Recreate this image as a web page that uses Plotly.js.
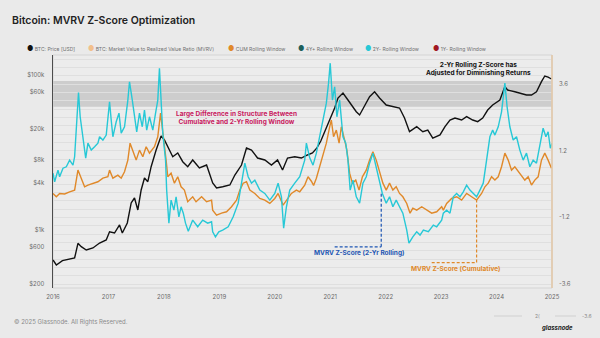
<!DOCTYPE html>
<html>
<head>
<meta charset="utf-8">
<script src="https://cdn.plot.ly/plotly-3.0.1.min.js"></script>
<style>
html,body{margin:0;padding:0;background:#eaeaea;}
#chart{width:600px;height:338px;}
</style>
</head>
<body>
<div id="chart"></div>
<script>
// ---------- DATA ----------
var btcYears = [2016.00,2016.06,2016.17,2016.39,2016.45,2016.51,2016.60,2016.72,2016.84,2016.96,
  2017.02,2017.11,2017.20,2017.25,2017.34,2017.41,2017.47,2017.53,2017.59,2017.65,2017.71,2017.77,2017.86,2017.95,
  2018.01,2018.10,2018.16,2018.25,2018.34,2018.43,2018.52,2018.64,2018.77,2018.88,2018.95,
  2019.06,2019.19,2019.28,2019.40,2019.49,2019.58,2019.69,2019.82,2019.94,
  2020.05,2020.14,2020.23,2020.36,2020.48,2020.59,2020.68,2020.76,2020.83,2020.90,2020.99,
  2021.08,2021.14,2021.23,2021.32,2021.38,2021.47,2021.53,2021.62,2021.71,2021.80,2021.89,
  2022.01,2022.13,2022.25,2022.34,2022.43,2022.56,2022.67,2022.76,2022.85,2022.98,
  2023.07,2023.16,2023.25,2023.37,2023.46,2023.57,2023.66,2023.75,2023.84,2023.93,
  2024.06,2024.15,2024.20,2024.33,2024.42,2024.54,2024.63,2024.72,2024.81,2024.87,2024.93,2024.99];
var btcPrice = [411,355,403,436,674,610,553,587,680,744,
  951,915,1161,915,1233,2230,2585,1811,3276,4677,4190,6537,10720,16250,
  14430,10720,8790,9810,7580,6537,7980,6290,6870,4035,3478,
  3612,3800,5105,6870,11380,10720,8456,7980,6870,
  7980,5930,8456,8790,8456,9250,9810,11400,14000,18450,26100,
  37270,50100,58100,47200,40700,33400,30300,40700,52100,60400,50100,
  40700,38700,37270,27700,18450,21400,18450,19400,15300,16750,
  21400,26100,27700,26100,28800,26100,24850,27700,35100,40700,
  47200,70000,63500,60400,57500,54800,54800,60400,81300,96200,93300,88100];

var cumYears = [2016.00,2016.06,2016.12,2016.21,2016.30,2016.39,2016.45,2016.51,2016.57,2016.63,2016.72,2016.81,2016.90,2016.99,
  2017.02,2017.08,2017.17,2017.23,2017.29,2017.35,2017.39,2017.44,2017.50,2017.56,2017.62,2017.68,2017.74,2017.83,2017.89,2017.94,2017.98,
  2018.04,2018.07,2018.13,2018.19,2018.25,2018.31,2018.37,2018.43,2018.52,2018.58,2018.68,2018.77,2018.86,2018.88,2018.95,
  2019.04,2019.13,2019.22,2019.31,2019.37,2019.43,2019.49,2019.55,2019.64,2019.73,2019.82,2019.91,
  2020.00,2020.06,2020.15,2020.21,2020.30,2020.39,2020.45,2020.54,2020.60,2020.66,2020.70,2020.75,2020.81,2020.87,2020.93,2020.99,
  2021.02,2021.06,2021.11,2021.16,2021.20,2021.26,2021.30,2021.35,2021.40,2021.46,2021.52,2021.58,2021.65,2021.71,2021.77,2021.83,2021.89,2021.95,
  2022.01,2022.07,2022.13,2022.19,2022.25,2022.31,2022.38,2022.44,2022.49,2022.56,2022.65,2022.74,2022.83,2022.92,
  2023.01,2023.04,2023.10,2023.19,2023.28,2023.37,2023.46,2023.55,2023.64,2023.73,2023.79,2023.85,2023.91,2023.97,
  2024.03,2024.09,2024.15,2024.21,2024.27,2024.33,2024.42,2024.51,2024.57,2024.63,2024.69,2024.75,2024.81,2024.87,2024.93,2024.99];
var cumZ = [-0.34,-0.46,-0.34,-0.36,-0.28,-0.22,0.50,0.21,-0.10,-0.04,0.03,0.08,0.21,0.26,
  0.50,0.21,0.32,0.21,0.44,0.86,1.47,1.22,0.86,1.22,0.98,1.34,1.11,1.34,1.70,2.55,1.94,
  0.86,0.26,0.39,0.03,0.26,-0.10,-0.22,-0.64,-0.46,-0.64,-0.46,-0.64,-0.58,-0.94,-1.12,
  -1.05,-1.00,-0.82,-0.58,-0.22,0.03,0.08,-0.22,-0.34,-0.52,-0.58,-0.70,
  -0.52,-0.34,-0.76,-0.58,-0.34,-0.22,-0.28,-0.04,0.26,0.10,-0.05,0.21,0.62,0.98,1.47,2.06,
  2.30,1.70,1.94,1.47,2.06,1.58,1.22,0.39,0.03,0.14,-0.22,0.26,0.50,0.86,1.16,0.86,0.39,0.03,
  -0.22,0.03,-0.22,-0.10,-0.34,-0.46,-0.70,-1.05,-0.87,-0.94,-0.82,-0.94,-1.05,-1.00,
  -0.82,-0.94,-0.70,-0.52,-0.46,-0.58,-0.34,-0.46,-0.58,-0.34,-0.10,0.03,0.26,0.14,
  0.26,0.62,1.11,0.86,0.50,0.62,0.39,0.14,0.26,-0.04,0.14,0.26,0.86,1.11,0.86,0.57];

var twoYYears = [2016.00,2016.03,2016.09,2016.12,2016.18,2016.24,2016.30,2016.36,2016.39,2016.42,2016.46,2016.49,2016.54,2016.59,2016.63,2016.69,2016.75,2016.81,2016.84,2016.90,2016.96,2016.99,
  2017.02,2017.05,2017.08,2017.14,2017.19,2017.23,2017.29,2017.35,2017.38,2017.43,2017.47,2017.51,2017.56,2017.61,2017.65,2017.69,2017.74,2017.80,2017.85,2017.89,2017.92,2017.95,2017.98,
  2018.03,2018.05,2018.09,2018.13,2018.18,2018.22,2018.27,2018.31,2018.35,2018.39,2018.44,2018.52,2018.61,2018.70,2018.79,2018.86,2018.88,2018.93,2018.99,
  2019.06,2019.16,2019.25,2019.34,2019.40,2019.46,2019.52,2019.58,2019.64,2019.73,2019.82,2019.91,
  2020.00,2020.06,2020.12,2020.16,2020.21,2020.27,2020.36,2020.45,2020.54,2020.57,2020.63,2020.69,2020.75,2020.81,2020.87,2020.93,2020.97,
  2021.00,2021.04,2021.08,2021.12,2021.17,2021.23,2021.28,2021.32,2021.36,2021.41,2021.47,2021.53,2021.59,2021.65,2021.71,2021.77,2021.83,2021.89,2021.94,
  2022.01,2022.07,2022.13,2022.19,2022.25,2022.31,2022.38,2022.42,2022.49,2022.56,2022.62,2022.68,2022.77,2022.86,2022.92,
  2023.01,2023.04,2023.10,2023.16,2023.22,2023.28,2023.34,2023.40,2023.46,2023.52,2023.58,2023.64,2023.70,2023.76,2023.82,2023.88,2023.93,2023.97,
  2024.03,2024.09,2024.15,2024.19,2024.24,2024.30,2024.36,2024.42,2024.48,2024.54,2024.60,2024.66,2024.72,2024.78,2024.84,2024.89,2024.93,2024.97,2025.00];
var twoYZ = [0.39,0.08,0.50,0.26,0.57,0.62,0.86,0.68,0.98,1.94,3.29,2.42,1.65,0.93,1.47,1.22,1.34,1.47,1.70,1.58,1.76,2.42,
  2.96,2.30,1.70,2.24,2.55,1.83,2.06,3.02,3.68,3.02,2.42,1.88,2.55,2.06,2.66,1.94,2.42,1.94,2.55,3.02,4.17,3.02,1.83,
  0.86,-0.22,-1.41,-0.58,-0.94,-0.46,-1.18,-0.82,-1.05,-1.41,-1.70,-1.30,-1.54,-1.30,-1.41,-1.36,-1.72,-1.90,-1.72,
  -1.66,-1.54,-1.18,-0.69,0.03,0.75,0.26,0.03,0.14,-0.22,-0.34,-0.58,
  -0.34,0.03,-0.46,-1.59,-0.82,-0.22,0.03,0.26,0.86,1.47,0.94,0.68,1.11,1.70,2.19,2.91,3.63,
  4.35,3.02,3.50,2.42,3.02,1.70,1.47,0.86,-0.22,0.14,-0.46,-0.69,0.03,0.26,0.75,1.11,0.62,0.14,-0.34,
  -0.69,-0.46,-0.82,-0.58,-0.82,-1.05,-1.66,-2.13,-1.90,-1.72,-1.84,-1.66,-1.72,-1.48,-1.54,
  -1.30,-1.05,-0.94,-1.05,-0.46,-0.34,-0.46,-0.28,-0.04,-0.22,-0.34,-0.46,-0.22,0.03,0.86,1.70,1.94,1.76,
  2.06,2.60,3.63,2.78,2.06,1.58,1.70,1.22,0.86,1.11,0.62,0.86,0.75,1.34,2.01,1.70,1.88,1.29,1.47];

var yearTicks = [2016,2017,2018,2019,2020,2021,2022,2023,2024,2025];
var priceTickVals = [200,600,1000,4000,8000,20000,60000,100000];
var priceTickText = ['$200','$600','$1k','$4k','$8k','$20k','$60k','$100k'];
var zLabelVals = [-3.6,-1.2,1.2,3.6];

// ---------- STYLE ----------
var FONT = 'Inter, Roboto, "Noto Sans", sans-serif';
var C_BTC = '#111111', C_CUM = '#e0892a', C_2Y = '#27c8d6';

var zGridVals = [], zGridText = [];
for (var i = -12; i <= 15; i++) {
  var v = Math.round(i * 0.3 * 10) / 10;
  zGridVals.push(v);
  zGridText.push(zLabelVals.indexOf(v) >= 0 ? String(v) : '');
}

var traces = [
  {x: btcYears, y: btcPrice, type: 'scatter', mode: 'lines', yaxis: 'y',
   line: {color: C_BTC, width: 1.4}, hoverinfo: 'skip'},
  {x: cumYears, y: cumZ, type: 'scatter', mode: 'lines', yaxis: 'y2',
   line: {color: C_CUM, width: 1.4}, hoverinfo: 'skip'},
  {x: twoYYears, y: twoYZ, type: 'scatter', mode: 'lines', yaxis: 'y2',
   line: {color: C_2Y, width: 1.4}, hoverinfo: 'skip'}
];

function pxX(px){ return (px - 53) / 499; }
function pxY(py){ return (288 - py) / 233; }

var legendItems = [
  {x: 25, dot: '#111111', text: 'BTC: Price [USD]'},
  {x: 86, dot: '#f2c08c', text: 'BTC: Market Value to Realized Value Ratio (MVRV)'},
  {x: 226, dot: '#e0892a', text: 'CUM Rolling Window'},
  {x: 296, dot: '#1d5f5a', text: '4Y+ Rolling Window'},
  {x: 363, dot: '#27c8d6', text: '2Y- Rolling Window'},
  {x: 431, dot: '#a01722', text: '1Y- Rolling Window'}
];

var annotations = legendItems.map(function(it){
  return {xref: 'paper', yref: 'paper', x: pxX(it.x), y: pxY(49), xanchor: 'left', yanchor: 'middle',
    showarrow: false, align: 'left',
    text: '<span style="color:' + it.dot + ';font-size:7px">●</span> ' + it.text,
    font: {family: FONT, size: 5, color: '#707070'}};
});

annotations.push(
  {xref: 'x', yref: 'y2', x: 2019.31, y: 2.38, showarrow: false, align: 'center',
   text: '<b>Large Difference in Structure Between<br>Cumulative and 2-Yr Rolling Window</b>',
   font: {family: FONT, size: 6.5, color: '#c8175d'}},
  {xref: 'x', yref: 'y2', x: 2023.68, y: 4.14, showarrow: false, align: 'center',
   text: '<b>2-Yr Rolling Z-Score has<br>Adjusted for Diminishing Returns</b>',
   font: {family: FONT, size: 6.5, color: '#111111'}},
  {xref: 'x', yref: 'y2', x: 2021.52, y: -2.49, showarrow: false,
   text: '<b>MVRV Z-Score (2-Yr Rolling)</b>',
   font: {family: FONT, size: 6.5, color: '#1c55b3'}},
  {xref: 'x', yref: 'y2', x: 2023.27, y: -3.06, showarrow: false,
   text: '<b>MVRV Z-Score (Cumulative)</b>',
   font: {family: FONT, size: 6.5, color: '#e0892a'}},
  {xref: 'paper', yref: 'paper', x: pxX(12), y: pxY(322), xanchor: 'left', yanchor: 'middle', showarrow: false,
   text: '© 2025 Glassnode. All Rights Reserved.', font: {family: FONT, size: 6, color: '#8a8a8a'}},
  {xref: 'paper', yref: 'paper', x: pxX(537), y: pxY(316), xanchor: 'center', yanchor: 'middle', showarrow: false,
   text: '2(', font: {family: FONT, size: 5, color: '#8a8a8a'}},
  {xref: 'paper', yref: 'paper', x: pxX(587), y: pxY(316), xanchor: 'center', yanchor: 'middle', showarrow: false,
   text: '-3.6', font: {family: FONT, size: 5, color: '#8a8a8a'}},
  {xref: 'paper', yref: 'paper', x: pxX(557), y: pxY(327), xanchor: 'center', yanchor: 'middle', showarrow: false,
   text: '<b><i>glassnode</i></b>', font: {family: FONT, size: 6, color: '#222222'}}
);

var DASH = '3px,2px';
var shapes = [
  {type: 'rect', xref: 'paper', yref: 'y2', x0: 0, x1: 1, y0: 2.78, y1: 3.71,
   fillcolor: '#cdcdcd', line: {width: 0}, layer: 'below'},
  {type: 'rect', xref: 'paper', yref: 'paper', x0: 0, x1: 1, y0: 0, y1: 1,
   fillcolor: 'rgba(0,0,0,0)', line: {color: '#d4d4d4', width: 1}, layer: 'below'},
  {type: 'line', xref: 'paper', yref: 'paper', x0: 1, x1: 1, y0: 0, y1: 1,
   line: {color: '#e3c7a6', width: 1.5}},
  {type: 'line', xref: 'x', yref: 'y2', x0: 2021.08, x1: 2021.92, y0: -2.26, y1: -2.26,
   line: {color: '#1c55b3', width: 1.2, dash: DASH}},
  {type: 'line', xref: 'x', yref: 'y2', x0: 2021.92, x1: 2021.92, y0: -2.26, y1: -0.34,
   line: {color: '#1c55b3', width: 1.2, dash: DASH}},
  {type: 'line', xref: 'x', yref: 'y2', x0: 2022.83, x1: 2023.64, y0: -2.83, y1: -2.83,
   line: {color: '#e0892a', width: 1.2, dash: DASH}},
  {type: 'line', xref: 'x', yref: 'y2', x0: 2023.64, x1: 2023.64, y0: -2.83, y1: -0.58,
   line: {color: '#e0892a', width: 1.2, dash: DASH}},
  {type: 'line', xref: 'paper', yref: 'paper', x0: pxX(494), x1: pxX(522), y0: pxY(316), y1: pxY(316),
   line: {color: '#d0d0d0', width: 1}},
  {type: 'line', xref: 'paper', yref: 'paper', x0: pxX(555), x1: pxX(576), y0: pxY(316), y1: pxY(316),
   line: {color: '#d0d0d0', width: 1}}
];

var layout = {
  width: 600, height: 338,
  margin: {l: 53, r: 48, t: 55, b: 50, pad: 0},
  paper_bgcolor: '#eaeaea', plot_bgcolor: '#ececec',
  showlegend: false,
  font: {family: FONT, size: 6, color: '#6a6a6a'},
  title: {text: 'Bitcoin: MVRV Z-Score Optimization', x: 12/600, xanchor: 'left', y: 1 - 20/338, yanchor: 'middle',
          font: {family: FONT, size: 10.5, color: '#222222', weight: 600}},
  xaxis: {range: [2016, 2025], tickmode: 'array', tickvals: yearTicks, ticktext: yearTicks.map(String),
          showgrid: false, zeroline: false, showline: false, ticks: '', ticklabelstandoff: 4,
          tickfont: {family: FONT, size: 6, color: '#6a6a6a'}, fixedrange: true},
  yaxis: {type: 'log', range: [2.2534, 5.2537], tickmode: 'array', tickvals: priceTickVals, ticktext: priceTickText,
          showgrid: false, zeroline: false, showline: true, linecolor: '#4d4d4d', linewidth: 1.5, ticks: '',
          ticklabelstandoff: 6, tickfont: {family: FONT, size: 6, color: '#6a6a6a'}},
  yaxis2: {overlaying: 'y', side: 'right', range: [-3.744, 4.644], tickmode: 'array',
           tickvals: zGridVals, ticktext: zGridText, showgrid: true, gridcolor: '#dfdfdf', gridwidth: 1,
           zeroline: false, showline: false, ticks: '', ticklabelstandoff: 6,
           tickfont: {family: FONT, size: 6, color: '#6a6a6a'}},
  shapes: shapes,
  annotations: annotations
};

Plotly.newPlot('chart', traces, layout, {staticPlot: true, displayModeBar: false});
</script>
</body>
</html>
